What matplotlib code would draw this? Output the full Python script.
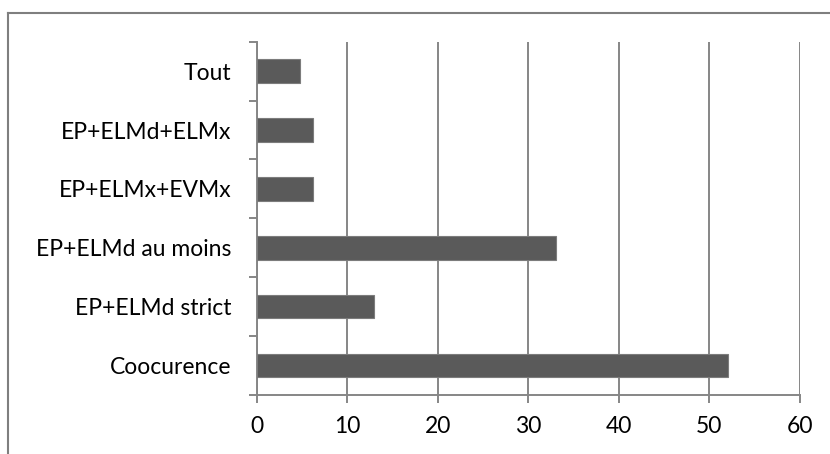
import matplotlib
matplotlib.use("Agg")
import matplotlib.pyplot as plt
from matplotlib.lines import Line2D
import numpy as np

categories = ["Coocurence", "EP+ELMd strict", "EP+ELMd au moins",
              "EP+ELMx+EVMx", "EP+ELMd+ELMx", "Tout"]
values = [52.1, 12.9, 33.0, 6.25, 6.25, 4.8]
xticks = [0, 10, 20, 30, 40, 50, 60]

W, H = 830, 454
fig = plt.figure(figsize=(W / 100, H / 100), dpi=100)
ax = fig.add_axes([256.7 / W, 1 - 395 / H, (800 - 256.7) / W, (395 - 41.7) / H])

grid_c = "#868686"
font = ["Lato", "DejaVu Sans"]
fs = 16.5

y = np.arange(len(categories))
ax.barh(y, values, height=0.4, color="#5a5a5a", edgecolor="#7c7c7c",
        linewidth=0.8, zorder=3)

ax.set_xlim(0, 60)
ax.set_ylim(-0.5, len(categories) - 0.5)
ax.set_xticks(xticks)
ax.set_xticklabels([str(t) for t in xticks], family=font, fontsize=fs)
ax.xaxis.grid(True, color=grid_c, linewidth=1.4, zorder=0)
ax.set_axisbelow(True)

# y ticks at category boundaries, labels at centers
ax.set_yticks(np.arange(-0.5, len(categories), 1.0))
ax.set_yticklabels([])
ax.set_yticks(y, minor=True)
ax.set_yticklabels(categories, minor=True, family=font, fontsize=fs)
ax.tick_params(axis="y", which="minor", length=0, pad=18)
ax.tick_params(axis="y", which="major", length=6, width=1.4, color=grid_c)
ax.tick_params(axis="x", length=6, width=1.4, color=grid_c, pad=9)

for s in ["top", "right"]:
    ax.spines[s].set_visible(False)
for s in ["left", "bottom"]:
    ax.spines[s].set_color(grid_c)
    ax.spines[s].set_linewidth(1.4)

# outer chart border (top and left visible)
fig.add_artist(Line2D([8 / W, 8 / W], [0, 1 - 12.5 / H], color="#7f7f7f",
                      linewidth=1.5, transform=fig.transFigure))
fig.add_artist(Line2D([8 / W, 1], [1 - 12.5 / H, 1 - 12.5 / H], color="#7f7f7f",
                      linewidth=1.5, transform=fig.transFigure))

fig.savefig("out.png", dpi=100)
